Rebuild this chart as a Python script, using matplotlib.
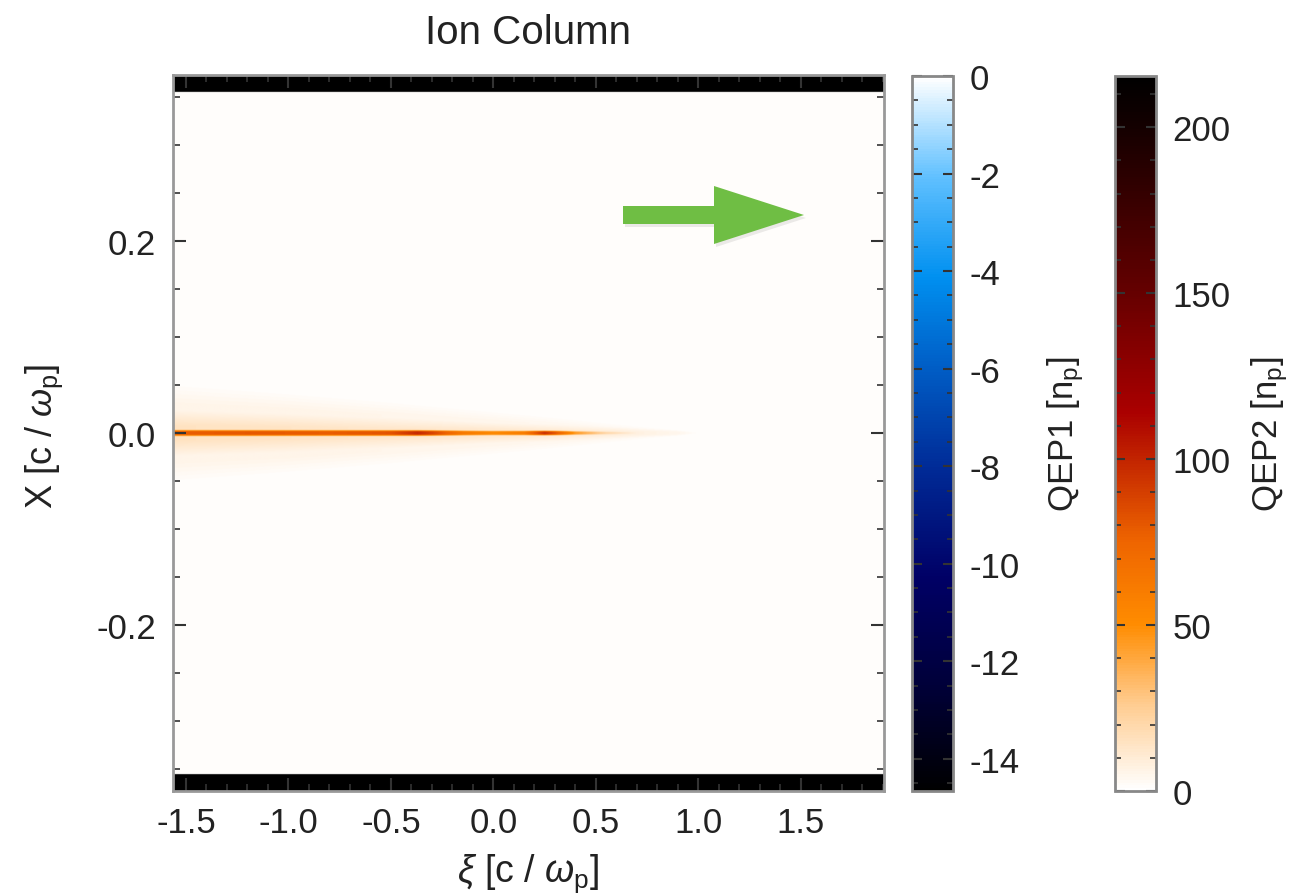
import matplotlib
matplotlib.use("Agg")
import matplotlib.pyplot as plt
import numpy as np
from matplotlib.colors import LinearSegmentedColormap, Normalize
from matplotlib.cm import ScalarMappable
from matplotlib.patches import Polygon
from matplotlib.ticker import MultipleLocator

plt.rcParams['font.family'] = ['Liberation Sans', 'DejaVu Sans']
plt.rcParams['mathtext.fontset'] = 'custom'
plt.rcParams['mathtext.rm'] = 'Liberation Sans'
plt.rcParams['mathtext.it'] = 'Liberation Sans:italic'
plt.rcParams['mathtext.bf'] = 'Liberation Sans:bold'

# axis ranges
xi_lim = (-1.563, 1.905)
x_lim = (-0.3725, 0.3725)
qep1_lim = (-14.66, 0.0)
qep2_lim = (0.0, 215.4)

# on-axis ion density (QEP2) along xi
xi_knots = [-1.563, -1.2, -0.8, -0.5, -0.37, -0.3, -0.15, 0.0, 0.15, 0.25, 0.3, 0.4, 0.55, 0.7, 0.85, 1.0]
axis_dens = [78, 80, 78, 82, 98, 88, 62, 52, 60, 95, 82, 45, 20, 8, 3, 0]
core_halfw = [0.0042, 0.0041, 0.004, 0.0039, 0.0038, 0.0037, 0.0035, 0.0033, 0.0032, 0.0031, 0.003, 0.0027, 0.0023, 0.0018, 0.0014, 0.001]

# faint cone around the axis
cone_xi = [-1.563, -1.0, -0.5, 0.0, 0.3, 0.6, 0.9, 1.0]
outer_halfw = [0.050, 0.041, 0.032, 0.022, 0.016, 0.009, 0.003, 0.0]
outer_dens = [4, 4, 3.5, 3, 2.5, 2, 1, 0]
inner_halfw = [0.024, 0.020, 0.016, 0.011, 0.009, 0.006, 0.003, 0.0]
inner_dens = [9, 8, 7, 7, 6, 5, 2, 0]

background = 1.5
band_edge = 0.355   # |x| beyond this is saturated (black bands)
band_value = 220

# colormaps
qep1_colors = [(0.0, '#000000'), (0.15, '#00003a'), (0.3, '#000066'), (0.45, '#002a96'),
               (0.6, '#0060c8'), (0.72, '#0090f0'), (0.86, '#60c0ff'), (1.0, '#ffffff')]
qep2_colors = [(0.0, '#ffffff'), (0.12, '#ffcc90'), (0.232, '#ff8c00'), (0.35, '#ee6400'),
               (0.464, '#c22400'), (0.53, '#aa0000'), (0.7, '#640000'), (0.93, '#140000'), (1.0, '#000000')]
cmap1 = LinearSegmentedColormap.from_list('qep1', qep1_colors)
cmap2 = LinearSegmentedColormap.from_list('qep2', qep2_colors)

# build the image
nx, ny = 900, 1400
xi = np.linspace(xi_lim[0], xi_lim[1], nx)
xx = np.linspace(x_lim[0], x_lim[1], ny)
XI, XX = np.meshgrid(xi, xx)
AX = np.abs(XX)

def taper(halfw, flat):
    # plateau near the axis, linear fall-off towards the layer edge
    return np.clip(flat * (1 - AX / np.maximum(halfw, 1e-6)), 0, 1)

img = np.full(XI.shape, background)
img += np.interp(XI, cone_xi, outer_dens) * taper(np.interp(XI, cone_xi, outer_halfw), 2.5)
img += np.interp(XI, cone_xi, inner_dens) * taper(np.interp(XI, cone_xi, inner_halfw), 1.5)
core = np.interp(XI, xi_knots, axis_dens, right=0) * taper(np.interp(XI, xi_knots, core_halfw), 1.6)
img = np.maximum(img, core)
img = np.where(AX > band_edge, band_value, img)

W, H = 1298, 895
fig = plt.figure(figsize=(W / 100, H / 100), dpi=100)

def fx(px):
    return px / W

def fy(py):
    return 1 - py / H

ax = fig.add_axes([fx(173), fy(792), fx(884) - fx(173), fy(76) - fy(792)])
ax.imshow(img, extent=[xi_lim[0], xi_lim[1], x_lim[0], x_lim[1]], origin='lower',
          aspect='auto', cmap=cmap2, vmin=qep2_lim[0], vmax=qep2_lim[1], interpolation='bilinear')
ax.set_xlim(*xi_lim)
ax.set_ylim(*x_lim)
ax.xaxis.set_major_locator(MultipleLocator(0.5))
ax.xaxis.set_minor_locator(MultipleLocator(0.1))
ax.yaxis.set_major_locator(MultipleLocator(0.2))
ax.yaxis.set_minor_locator(MultipleLocator(0.05))
ax.xaxis.set_major_formatter(plt.FuncFormatter(lambda v, p: f'{v:.1f}'))
ax.yaxis.set_major_formatter(plt.FuncFormatter(lambda v, p: f'{v:.1f}'))
ax.tick_params(which='both', direction='in', top=True, right=True, color='#333333', labelsize=25,
               labelcolor='#222222')
ax.tick_params(which='major', length=9.5, width=1.5)
ax.tick_params(which='minor', length=5, width=1.2)
ax.tick_params(axis='x', which='major', pad=11)
ax.tick_params(axis='y', which='major', pad=12)
for s in ax.spines.values():
    s.set_color('#999999')
    s.set_linewidth(2)

fig.text(fx(528), fy(33), 'Ion Column', ha='center', va='center', fontsize=29, color='#222222')
fig.text(fx(528), fy(874), r'$\xi$ [c / $\omega_{\rm p}$]', ha='center', va='center', fontsize=27, color='#222222')
fig.text(fx(44), fy(436), r'X [c / $\omega_{\rm p}$]', ha='center', va='center', rotation=90,
         fontsize=26, color='#222222')

# colorbars
def make_cbar(left, right, cmap, lims, major, minor, label, label_x):
    cax = fig.add_axes([fx(left), fy(792), fx(right) - fx(left), fy(77) - fy(792)])
    sm = ScalarMappable(norm=Normalize(*lims), cmap=cmap)
    cb = fig.colorbar(sm, cax=cax)
    cb.outline.set_edgecolor('#888888')
    cb.outline.set_linewidth(2)
    cax.yaxis.set_major_locator(MultipleLocator(major))
    cax.yaxis.set_minor_locator(MultipleLocator(minor))
    cax.yaxis.set_major_formatter(plt.FuncFormatter(lambda v, p: f'{v:.0f}'))
    cax.tick_params(which='both', direction='in', left=True, right=True, color='#333333',
                    labelsize=25, labelcolor='#222222', pad=12)
    cax.tick_params(which='major', length=7, width=1.5)
    cax.tick_params(which='minor', length=4, width=1.2)
    fig.text(fx(label_x), fy(434), label, ha='center', va='center', rotation=90,
             fontsize=25, color='#222222')
    return cb

make_cbar(912, 953, cmap1, qep1_lim, 2, 0.5, r'QEP1 [n$_{\rm p}$]', 1066)
make_cbar(1115, 1156, cmap2, qep2_lim, 50, 10, r'QEP2 [n$_{\rm p}$]', 1270)

# green arrow
arrow_px = [(623, 207), (714, 207), (714, 187), (804, 216), (714, 245), (714, 225), (623, 225)]
shadow = [(fx(px + 2), fy(py + 3)) for px, py in arrow_px]
fig.patches.append(Polygon(shadow, closed=True, transform=fig.transFigure, facecolor='#000000',
                           alpha=0.08, edgecolor='none'))
pts = [(fx(px), fy(py)) for px, py in arrow_px]
fig.patches.append(Polygon(pts, closed=True, transform=fig.transFigure, facecolor='#6fbe44',
                           edgecolor='none'))

fig.savefig('out.png', dpi=100)
